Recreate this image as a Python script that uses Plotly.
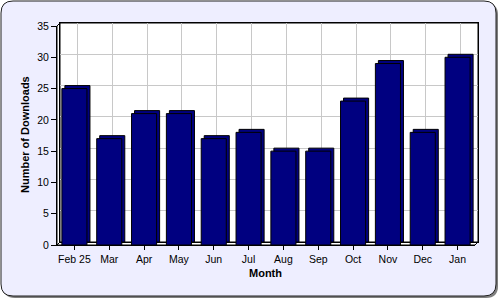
import plotly.graph_objects as go

months = ["Feb 25", "Mar", "Apr", "May", "Jun", "Jul", "Aug", "Sep", "Oct", "Nov", "Dec", "Jan"]
downloads = [25, 17, 21, 21, 17, 18, 15, 15, 23, 29, 18, 30]
y_ticks = [0, 5, 10, 15, 20, 25, 30, 35]

W, H = 500, 300
def px(x):
    return x / W
def py(y):
    return 1 - y / H

# front plot frame (pixels) and 3D depth
FL, FR, FT, FB = 57, 475, 26, 245
D = 3
BL, BR, BT, BB = FL + D, FR + D, FT - D, FB - D

def rrect(x0, y0, x1, y1, r):
    return (f"M {px(x0+r)},{py(y0)} L {px(x1-r)},{py(y0)} Q {px(x1)},{py(y0)} {px(x1)},{py(y0+r)} "
            f"L {px(x1)},{py(y1-r)} Q {px(x1)},{py(y1)} {px(x1-r)},{py(y1)} "
            f"L {px(x0+r)},{py(y1)} Q {px(x0)},{py(y1)} {px(x0)},{py(y1-r)} "
            f"L {px(x0)},{py(y0+r)} Q {px(x0)},{py(y0)} {px(x0+r)},{py(y0)} Z")

fig = go.Figure()
# back (depth) bars
fig.add_trace(go.Bar(x=months, y=downloads, xaxis="x", yaxis="y", width=0.72,
                     marker=dict(color="#000080", line=dict(color="black", width=1)),
                     hoverinfo="skip"))
# front bars
fig.add_trace(go.Bar(x=months, y=downloads, xaxis="x2", yaxis="y2", width=0.72,
                     marker=dict(color="#000080", line=dict(color="black", width=1))))

shapes = [
    dict(type="path", xref="paper", yref="paper", path=rrect(3, 3, 498, 298, 12),
         fillcolor="#7f7f7f", line=dict(width=0), layer="below"),
    dict(type="path", xref="paper", yref="paper", path=rrect(1, 1, 496, 296, 12),
         fillcolor="#EEEEFF", line=dict(color="#202020", width=1), layer="below"),
    # front area + walls (white)
    dict(type="path", xref="paper", yref="paper",
         path=(f"M {px(FL)},{py(FB)} L {px(FL)},{py(FT)} L {px(BL)},{py(BT)} L {px(BR)},{py(BT)} "
               f"L {px(BR)},{py(BB)} L {px(FR)},{py(FB)} Z"),
         fillcolor="white", line=dict(color="black", width=1), layer="below"),
    # wall edges
    dict(type="line", xref="paper", yref="paper", x0=px(FL), y0=py(FB), x1=px(BL), y1=py(BB),
         line=dict(color="black", width=1), layer="below"),
    dict(type="line", xref="paper", yref="paper", x0=px(BL), y0=py(BB), x1=px(BR), y1=py(BB),
         line=dict(color="black", width=1), layer="below"),
    dict(type="line", xref="paper", yref="paper", x0=px(BL), y0=py(BB), x1=px(BL), y1=py(BT),
         line=dict(color="black", width=1), layer="below"),
]

fig.update_layout(
    width=W, height=H, margin=dict(l=0, r=0, t=0, b=0),
    paper_bgcolor="white", plot_bgcolor="rgba(0,0,0,0)",
    showlegend=False, barmode="overlay",
    font=dict(family="Liberation Sans, Arial, sans-serif", size=10.5, color="black"),
    shapes=shapes,
    xaxis=dict(domain=[px(BL), px(BR)], range=[-0.5, 11.5], showgrid=True, gridcolor="#c8c8c8",
               showticklabels=False, ticks="", showline=True, linecolor="black", mirror=True,
               anchor="y", fixedrange=True),
    yaxis=dict(domain=[py(BB), py(BT)], range=[0, 35], tickvals=y_ticks, showgrid=True,
               gridcolor="#c8c8c8", showticklabels=False, ticks="", showline=True,
               linecolor="black", mirror=True, zeroline=False, anchor="x", fixedrange=True),
    xaxis2=dict(domain=[px(FL), px(FR)], range=[-0.5, 11.5], showgrid=False, ticks="outside",
                ticklen=4, tickcolor="black", showline=True, linecolor="black", anchor="y2",
                automargin=False, fixedrange=True),
    yaxis2=dict(domain=[py(FB), py(FT)], range=[0, 35], tickvals=y_ticks, showgrid=False,
                ticks="outside", ticklen=5, tickcolor="black", showline=True, linecolor="black",
                zeroline=False, anchor="x2", automargin=False, fixedrange=True),
    annotations=[
        dict(text="<b>Month</b>", xref="paper", yref="paper", x=px(265), y=py(273),
             xanchor="center", yanchor="middle", showarrow=False, font=dict(size=11)),
        dict(text="<b>Number of Downloads</b>", xref="paper", yref="paper", x=px(25),
             y=py(135), xanchor="center", yanchor="middle", showarrow=False, textangle=-90,
             font=dict(size=11)),
    ],
)

fig.write_html("out.html")
